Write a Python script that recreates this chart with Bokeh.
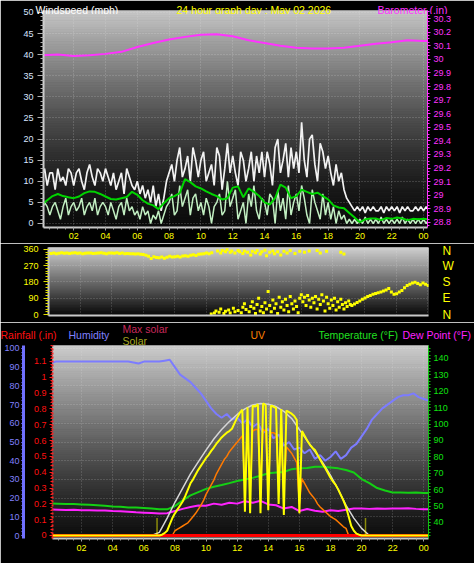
import numpy as np
from bokeh.plotting import figure
from bokeh.models import Range1d, LinearAxis, FixedTicker, Label, Grid, NumeralTickFormatter
from bokeh.layouts import column
from bokeh.embed import file_html
from bokeh.resources import INLINE

FONT = "Liberation Sans"
TICK_FS = "9px"
HEAD_FS = "10.5px"

# ---------------- data ----------------
hour_ticks = [2, 4, 6, 8, 10, 12, 14, 16, 18, 20, 22, 24]
hour_labels = ["02", "04", "06", "08", "10", "12", "14", "16", "18", "20", "22", "00"]

# barometer (inHg), hourly
baro_hours = list(range(26))
baro_in = [30.03, 30.035, 30.025, 30.03, 30.04, 30.055, 30.09, 30.12, 30.145, 30.165, 30.18, 30.185,
           30.17, 30.14, 30.12, 30.10, 30.085, 30.08, 30.08, 30.085, 30.10, 30.115, 30.125, 30.14,
           30.135, 30.135]

# wind (mph), 10-minute samples from 00:00
wind_step_h = 1 / 6
gust_mph = [11, 13, 9, 12, 12, 8, 13, 10, 11, 9, 13, 12,
            9, 12, 13, 10, 8, 12, 14, 11, 9, 13, 12, 10,
            13, 11, 9, 12, 8, 10, 12, 7, 13, 11, 9, 8,
            10, 7, 9, 6, 8, 5, 9, 4, 7, 3, 6, 10,
            12, 14, 10, 15, 18, 11, 13, 16, 10, 18, 15, 11,
            15, 17, 10, 12, 14, 9, 18, 16, 8, 13, 19, 12,
            16, 12, 9, 17, 15, 10, 13, 17, 10, 16, 12, 17,
            11, 17, 14, 9, 18, 20, 12, 15, 19, 11, 18, 13,
            17, 12, 24, 15, 11, 20, 21, 14, 10, 19, 17, 13,
            16, 12, 9, 14, 10, 12, 8, 6, 5, 4, 3, 4,
            3, 4, 2.5, 4, 3, 4, 3, 3, 4, 2.5, 4, 3,
            4, 3, 4, 2.5, 4, 3, 4, 3, 3, 4, 3, 4, 3, 4, 3]
speed_mph = [3, 5, 4, 2, 4, 5, 3, 1, 4, 6, 2, 4,
             5, 3, 4, 6, 2, 4, 5, 3, 6, 2, 4, 5,
             4, 2, 5, 3, 1, 4, 5, 2, 6, 3, 4, 2,
             3, 1, 4, 2, 3, 0, 2, 1, 3, 0, 2, 4,
             5, 7, 2, 3, 9, 4, 6, 8, 2, 6, 7, 3,
             5, 2, 6, 4, 0, 4, 5, 7, 2, 3, 10, 4,
             6, 8, 1, 3, 5, 0, 7, 4, 9, 3, 1, 6,
             5, 2, 7, 6, 0, 8, 3, 6, 1, 9, 2, 5,
             7, 3, 9, 6, 2, 0, 8, 5, 3, 1, 7, 2,
             5, 1, 4, 0, 3, 1, 2, 0, 1, 0, 1, 0,
             1, 0, 1.5, 0, 1, 0, 1, 0, 1.5, 0, 1, 0,
             1, 0, 1, 0, 1.5, 0, 1, 0, 1, 0, 1, 0, 1, 0, 1]
# average wind (mph), 20-minute samples
avg_step_h = 1 / 3
avg_mph = [4.5, 5.5, 6.5, 7, 6.5, 6.2, 6, 6.4, 7.2, 7.6, 7.5, 7,
           6.4, 5.8, 5.7, 6, 6.3, 7.5, 6.8, 5.5, 4.7, 4.3, 3.4, 4.8,
           6, 6.5, 7.2, 10.5, 9.8, 8.8, 8.3, 7.6, 7, 6.5, 5.7, 6,
           8.5, 8.8, 6.2, 8.3, 7.5, 6.5, 5, 4.5, 6, 9.2, 8.5, 6,
           6.5, 8, 7.5, 7, 7.3, 6.5, 5.7, 4.3, 3.8, 3.6, 2.5, 1.4,
           0.3, 1, 1.2, 1.2, 0.8, 1.3, 1.1, 1.4, 1.2, 0.8, 1.1, 1.0,
           1.1, 1.0]

# wind direction (degrees)
dir_step_h = 1 / 6
dir_band_deg = [340, 338, 341, 337, 339, 342,
                339, 341, 338, 340, 342, 339,
                340, 337, 339, 341, 340, 338,
                339, 340, 342, 339, 337, 340,
                341, 339, 342, 338, 340, 337,
                338, 336, 337, 335, 336, 333,
                332, 328, 322, 310, 320, 316,
                314, 319, 312, 317, 322, 318,
                320, 323, 319, 324, 326, 323,
                328, 331, 327, 333, 335, 337,
                340, 336, 342]
dir_scatter_h = [10.7, 10.9, 11.0, 11.2, 11.3, 11.5, 11.6, 11.8, 12.0, 12.1, 12.3, 12.4, 12.6, 12.8,
                 12.9, 13.1, 13.2, 13.4, 13.5, 13.7, 13.8, 14.0, 14.2, 14.3, 14.5, 14.7, 14.9, 15.1,
                 15.3, 15.6, 15.9, 16.2, 16.5, 17.0, 17.2, 17.6, 18.5, 18.7,
                 10.3, 10.5, 10.6, 10.8, 10.9, 11.1, 11.2, 11.4, 11.5, 11.7, 11.8, 12.0,
                 12.2, 12.3, 12.4, 12.5, 12.7, 12.8, 12.9, 13.0, 13.1, 13.2, 13.3, 13.4, 13.5, 13.6,
                 13.7, 13.8, 13.9,
                 14.0, 14.1, 14.2, 14.3, 14.4, 14.5, 14.6, 14.7, 14.8, 14.9, 15.0, 15.1, 15.2, 15.3,
                 15.4, 15.5, 15.6, 15.7, 15.8, 15.9,
                 16.0, 16.1, 16.2, 16.3, 16.4, 16.5, 16.6, 16.7, 16.8, 16.9, 17.0, 17.1, 17.2, 17.3,
                 17.4, 17.5, 17.6, 17.7, 17.8, 17.9,
                 18.0, 18.1, 18.2, 18.3, 18.4, 18.5, 18.6, 18.7, 18.8, 18.9, 19.0, 19.1]
dir_scatter_deg = [352, 340, 355, 347, 358, 345, 352, 340, 355, 347, 338, 352, 345, 330,
                   350, 342, 355, 335, 348, 356, 325, 345, 352, 336, 348, 330, 350, 340,
                   355, 338, 350, 345, 352, 355, 340, 350, 345, 335,
                   3, 8, 20, 12, 30, 5, 18, 25, 8, 35, 15, 22,
                   10, 40, 60, 28, 15, 45, 70, 35, 5, 55, 90, 20, 45, 10,
                   65, 30, 128,
                   50, 15, 80, 35, 60, 5, 95, 40, 70, 25, 85, 50, 15, 100,
                   60, 30, 75, 45, 10, 90,
                   110, 70, 95, 50, 105, 80, 40, 90, 65, 100, 30, 85, 55, 110,
                   75, 20, 95, 60, 35, 80,
                   50, 90, 25, 70, 40, 85, 55, 30, 65, 45, 75, 55]
dir_tail_start_h = 19.2
dir_tail_deg = [50, 58, 66, 75, 85, 92,
                100, 105, 112, 116, 120, 125,
                130, 136, 144, 125, 112, 115,
                125, 133, 148, 160, 168, 175,
                178, 172, 165, 175, 168, 160, 156]
dir_labels = {0: "N", 90: "E", 180: "S", 270: "W", 360: "N"}

# humidity (%), 20-minute samples
hum_step_h = 1 / 3
humidity = [92, 93, 93, 93, 93, 93, 93, 93, 93, 93, 93, 93,
            93, 93, 93, 93, 92.5, 92, 93, 93, 93, 93, 93.5, 94,
            90, 86, 84, 82, 79, 76, 72, 68, 65, 63, 65, 62,
            63, 60, 62, 58, 60, 55, 57, 52, 54, 48, 50, 46,
            47, 44, 46, 41, 43, 40, 42, 45, 41, 43, 47, 49,
            53, 57, 62, 65, 68, 70, 72, 74, 75, 75, 76, 74,
            73, 72]

# temperature / dew point (F), 30-minute samples
temp_step_h = 0.5
temperature = [51.6, 51.5, 51.3, 51.2, 51, 50.8, 50.5, 50.2, 49.8, 49.6, 49.2, 49.1,
               48.8, 48.5, 48.1, 48.0, 50, 53.5, 56.5, 58.5, 60.5, 61.8, 62.8, 64,
               65.3, 66.2, 67.2, 68.5, 70, 70.5, 70.8, 72.5, 73, 73.2, 74, 74,
               73.5, 73, 72, 70.5, 66.5, 64, 61, 59.5, 58.3, 58.3, 58.2, 58.3,
               58, 58]
dewpoint = [48, 47.8, 47.6, 47.7, 47.5, 47.4, 47.3, 47.3, 47, 46.8, 46.5, 46.2,
            46, 45.8, 45.5, 45.6, 47, 48.3, 49.5, 50.4, 50.2, 51.5, 50.8, 52,
            51.5, 53, 52, 53.2, 51, 50.5, 48.5, 49.5, 47, 48.2, 47.2, 46.5,
            47.5, 47, 47.8, 48.5, 48.6, 48.3, 48.6, 48.4, 48.6, 48.5, 48.7, 48.3,
            48, 48]

# rainfall (in), hourly
rain_hours = list(range(26))
rain_in = [0] * 26

# max solar (W/m2), 30-minute samples from 06:30
maxsolar_start_h = 6.5
maxsolar = [0, 20, 110, 210, 300, 390, 465, 540, 610, 670, 720, 765,
            800, 825, 834, 830, 815, 785, 740, 670, 600, 530, 460, 380,
            290, 190, 110, 45, 0, 0]

# solar (W/m2) and UV index, 10-minute samples from 06:30
sun_start_h = 6.5
solar = [0, 0, 0, 0,
         5, 15, 30, 70, 110, 140,
         165, 190, 215, 250, 290, 330,
         355, 385, 415, 440, 465, 490,
         510, 535, 556, 580, 600, 620,
         635, 650, 660, 675, 710, 745,
         775, 795, 150, 810, 140, 820,
         815, 830, 140, 835, 825, 160,
         820, 815, 805, 200, 800, 130,
         790, 780, 770, 755, 730, 140,
         660, 630, 600, 575, 555, 540,
         510, 480, 450, 425, 395, 365,
         340, 320, 290, 255, 220, 180,
         120, 60, 30, 12, 5, 0,
         0, 0, 0]
uv_index = [0, 0, 0, 0,
            0, 0, 0, 0, 0, 0.3,
            0.4, 0.5, 0.6, 0.7, 0.8, 1.0,
            1.2, 1.4, 1.65, 1.9, 2.2, 2.6,
            2.9, 3.2, 3.5, 3.9, 4.2, 4.5,
            4.8, 5.0, 5.3, 5.5, 5.7, 5.9,
            6.1, 6.3, 3.0, 6.5, 2.8, 6.6,
            6.7, 6.7, 3.2, 6.7, 6.6, 3.0,
            6.5, 6.5, 6.4, 3.5, 6.2, 2.8,
            5.6, 5.4, 5.2, 4.9, 4.6, 2.0,
            3.6, 3.3, 3.0, 2.7, 2.5, 2.3,
            2.0, 1.8, 1.65, 1.5, 1.35, 1.2,
            1.1, 1.0, 0.85, 0.7, 0.55, 0.45,
            0, 0, 0, 0, 0, 0,
            0, 0, 0]
sunrise_h = 6.85
sunset_h = 20.25
day_end_h = 24.3

# ---------------- helpers ----------------
def gradient(p, xr, yr, top, bottom, g, n=90):
    edges = np.linspace(yr.end, yr.start, n + 1)
    t = (np.arange(n) + 0.5) / n
    cols = []
    for ti in t:
        f = (1 - ti) ** g
        c = int(round(bottom + (top - bottom) * f))
        cols.append("#%02x%02x%02x" % (c, c, c))
    p.quad(left=xr.start, right=xr.end, top=edges[:-1], bottom=edges[1:],
           fill_color=cols, line_color=cols, line_width=1, level="image")


def style_axis(ax, label_color, line_color, tick_color, fs=TICK_FS, tick_out=3, minor_out=2,
               standoff=3, line_width=1, line_dash=None):
    ax.major_label_text_color = label_color
    ax.major_label_text_font = FONT
    ax.major_label_text_font_size = fs
    ax.axis_line_color = line_color
    ax.axis_line_width = line_width
    if line_dash:
        ax.axis_line_dash = line_dash
    ax.major_tick_line_color = tick_color
    ax.minor_tick_line_color = tick_color
    ax.major_tick_in = 0
    ax.minor_tick_in = 0
    ax.major_tick_out = tick_out
    ax.minor_tick_out = minor_out
    ax.major_label_standoff = standoff


def header_strip(h, top):
    # transparent strip laid over the top border of a panel; coordinates are its own pixels
    s = figure(width=474, height=h, x_range=Range1d(0, 474), y_range=Range1d(h, 0),
               output_backend="svg", toolbar_location=None,
               background_fill_alpha=0, border_fill_alpha=0, outline_line_color=None,
               min_border=0, min_border_left=0, min_border_right=0, min_border_top=0,
               min_border_bottom=0, x_axis_location=None, y_axis_location=None, frame_align=False,
               styles={"position": "absolute", "top": "%dpx" % top, "left": "0px", "z-index": "2"})
    s.xgrid.visible = False
    s.ygrid.visible = False
    return s


def header(s, px, py, text, color, fs=HEAD_FS):
    s.add_layout(Label(x=px, y=py, text=text, text_color=color, text_font=FONT,
                       text_font_size=fs, text_baseline="alphabetic", text_align="left"))


def base_fig(w, h, xr, yr, ml, mr, mt, mb, **kw):
    p = figure(width=w, height=h, x_range=xr, y_range=yr, output_backend="svg",
               toolbar_location=None, background_fill_color="black", border_fill_color="black",
               outline_line_color=None, min_border_left=ml, min_border_right=mr,
               min_border_top=mt, min_border_bottom=mb, frame_align=False, **kw)
    return p


half_hours = [i * 0.5 for i in range(0, 50)]
x_overrides = {t: l for t, l in zip(hour_ticks, hour_labels)}

# ---------------- top header ----------------
h1 = header_strip(14, 0)
header(h1, 35, 9, "Windspeed (mph)", "#ffffff")
header(h1, 176, 9, "24 hour graph day : May 02 2026", "#ffff00")
header(h1, 377, 9, "Barometer (.in)", "#ff33ff")

# ---------------- top panel: wind + barometer ----------------
x1 = Range1d(0.1, 24.25)
y1 = Range1d(-0.95, 50.47)
p1 = base_fig(474, 243, x1, y1, 43, 47, 10, 16)
p1.extra_y_ranges = {"baro": Range1d(28.763, 30.359)}
gradient(p1, x1, y1, 200, 12, 1.5)

p1.xaxis.ticker = FixedTicker(ticks=hour_ticks, minor_ticks=half_hours)
p1.xaxis.major_label_overrides = x_overrides
style_axis(p1.xaxis[0], "#ffff00", "#c8c8c8", "#a0a0a0", tick_out=3, minor_out=2, standoff=2, line_width=2)
p1.yaxis.ticker = FixedTicker(ticks=list(range(0, 51, 5)), minor_ticks=list(range(0, 51)))
style_axis(p1.yaxis[0], "#d8e4ff", "#d0d0d0", "#b0b0b0", tick_out=6, minor_out=3, standoff=4, line_width=2)
baro_ticks = [round(28.8 + 0.1 * i, 1) for i in range(16)]
baro_axis = LinearAxis(y_range_name="baro",
                       ticker=FixedTicker(ticks=baro_ticks,
                                          minor_ticks=[round(28.75 + 0.025 * i, 3) for i in range(66)]),
                       formatter=NumeralTickFormatter(format="0.[0]"))
style_axis(baro_axis, "#ff33ff", "#ff33ff", "#ff33ff", tick_out=3, minor_out=2, standoff=3)
p1.add_layout(baro_axis, "right")

p1.xgrid.ticker = FixedTicker(ticks=hour_ticks)
p1.ygrid.ticker = FixedTicker(ticks=list(range(0, 51, 5)))
for g_ in (p1.xgrid[0], p1.ygrid[0]):
    g_.grid_line_color = "#e8e8e8"
    g_.grid_line_alpha = 0.35
    g_.grid_line_dash = "1 2"

t_w = np.arange(len(gust_mph)) * wind_step_h
p1.line(t_w, gust_mph, color="#f2f2f2", line_width=1.7)
p1.line(np.arange(len(speed_mph)) * wind_step_h, speed_mph, color="#c2efc2", line_width=1.5)
p1.line(np.arange(len(avg_mph)) * avg_step_h, avg_mph, color="#00d400", line_width=2)
p1.line(baro_hours, baro_in, color="#ff33ff", line_width=2, y_range_name="baro")

# ---------------- middle panel: wind direction ----------------
x2 = Range1d(0, 24.05)
y2 = Range1d(-5.5, 371)
p2 = base_fig(474, 79, x2, y2, 48, 46, 4, 7)
gradient(p2, x2, y2, 210, 10, 1.0)
p2.xaxis.ticker = FixedTicker(ticks=[])
style_axis(p2.xaxis[0], "#000000", "#c8c8c8", "#c8c8c8", tick_out=0, minor_out=0, standoff=0, line_width=2)
p2.xaxis.major_label_text_font_size = "0px"
p2.yaxis.ticker = FixedTicker(ticks=[0, 90, 180, 270, 360], minor_ticks=list(range(0, 361, 15)))
style_axis(p2.yaxis[0], "#ffff00", "#c8c8c8", "#e0e000", tick_out=5, minor_out=3, standoff=5, line_width=2)
compass = LinearAxis(ticker=FixedTicker(ticks=[0, 90, 180, 270, 360]))
compass.major_label_overrides = dir_labels
style_axis(compass, "#ffff00", None, None, fs="12px", tick_out=0, minor_out=0, standoff=14)
p2.add_layout(compass, "right")
p2.xgrid.ticker = FixedTicker(ticks=hour_ticks)
p2.ygrid.ticker = FixedTicker(ticks=[90, 180, 270])
for g_ in (p2.xgrid[0], p2.ygrid[0]):
    g_.grid_line_color = "#e8e8e8"
    g_.grid_line_alpha = 0.3
    g_.grid_line_dash = "1 2"

band_t = np.arange(len(dir_band_deg)) * dir_step_h
tail_t = dir_tail_start_h + np.arange(len(dir_tail_deg)) * dir_step_h
p2.scatter(band_t, dir_band_deg, marker="square", size=3, color="#ffff00", line_color=None)
p2.scatter(dir_scatter_h, dir_scatter_deg, marker="square", size=3, color="#ffff00", line_color=None)
p2.scatter(tail_t, dir_tail_deg, marker="square", size=3, color="#ffff00", line_color=None)

# ---------------- bottom header ----------------
h3 = header_strip(27, 318)
header(h3, 0, 16, "Rainfall (.in)", "#ff1010")
header(h3, 68, 16, "Humidity", "#8080ff")
header(h3, 122, 10, "Max solar", "#c8285a")
header(h3, 122, 22, "Solar", "#a8a820")
header(h3, 250, 16, "UV", "#ff8000")
header(h3, 318, 16, "Temperature (°F)", "#20e020")
header(h3, 402, 16, "Dew Point (°F)", "#ff22ff")

# ---------------- bottom panel ----------------
x3 = Range1d(0.13, 24.3)
y3 = Range1d(-0.019, 1.201)
p3 = base_fig(474, 241, x3, y3, 52, 46, 23, 25, y_axis_location=None)
p3.extra_y_ranges = {"hum": Range1d(-1.6, 101.6), "temp": Range1d(30.24, 147.9),
                     "solar": Range1d(-19, 1201), "uv": Range1d(-0.19, 12.01)}
gradient(p3, x3, y3, 205, 14, 1.2)
for g_ in p3.ygrid:
    g_.visible = False

p3.xaxis.ticker = FixedTicker(ticks=hour_ticks, minor_ticks=half_hours)
p3.xaxis.major_label_overrides = x_overrides
style_axis(p3.xaxis[0], "#ffff00", "#c8c8c8", "#a0a0a0", tick_out=3, minor_out=2, standoff=3, line_width=2)

rain_axis = LinearAxis(ticker=FixedTicker(ticks=[round(0.1 * i, 1) for i in range(12)],
                                          minor_ticks=[round(0.02 * i, 2) for i in range(61)]),
                       formatter=NumeralTickFormatter(format="0.[0]"))
style_axis(rain_axis, "#ff1010", "#ff2020", "#ff2020", tick_out=3, minor_out=2, standoff=3,
           line_width=2, line_dash="2 2")
rain_axis.axis_label = " "
rain_axis.axis_label_text_font_size = "2px"
rain_axis.axis_label_standoff = 2
p3.add_layout(rain_axis, "left")
hum_axis = LinearAxis(y_range_name="hum", ticker=FixedTicker(ticks=list(range(0, 101, 10)),
                                                            minor_ticks=list(range(0, 101, 2))))
style_axis(hum_axis, "#8080ff", "#7070ff", "#7070ff", tick_out=2, minor_out=2, standoff=2, line_width=3)
p3.add_layout(hum_axis, "left")
temp_axis = LinearAxis(y_range_name="temp", ticker=FixedTicker(ticks=list(range(40, 141, 10)),
                                                              minor_ticks=list(range(32, 148, 2))))
style_axis(temp_axis, "#10e010", "#10c010", "#10c010", tick_out=2, minor_out=2, standoff=3, line_width=1)
p3.add_layout(temp_axis, "right")

p3.xgrid.ticker = FixedTicker(ticks=hour_ticks)
p3.xgrid.grid_line_color = "#e8e8e8"
p3.xgrid.grid_line_alpha = 0.3
p3.xgrid.grid_line_dash = "1 2"
hgrid = Grid(dimension=1, ticker=FixedTicker(ticks=list(range(10, 101, 10))), y_range_name="hum",
             grid_line_color="#e8e8e8", grid_line_alpha=0.3, grid_line_dash="1 2")
p3.add_layout(hgrid)

p3.line(np.arange(len(humidity)) * hum_step_h, humidity, color="#7c7cff", line_width=2, y_range_name="hum")
t_t = np.arange(len(temperature)) * temp_step_h
p3.line(t_t, temperature, color="#14d014", line_width=2, y_range_name="temp")
p3.line(t_t, dewpoint, color="#ff22ff", line_width=2, y_range_name="temp")
p3.line(maxsolar_start_h + np.arange(len(maxsolar)) * 0.5, maxsolar, color="#d6d6d6", line_width=1.5,
        y_range_name="solar")
sun_t = sun_start_h + np.arange(len(solar)) / 6
p3.line(sun_t, uv_index, color="#ff7a00", line_width=1.5, y_range_name="uv")
p3.line(rain_hours, rain_in, color="#ff0000", line_width=3)
solar_t_full = np.concatenate([[0.0], sun_t, [day_end_h]])
solar_full = [0] + solar + [0]
p3.line(solar_t_full, solar_full, color="#ffff00", line_width=2, y_range_name="solar")
p3.segment(x0=[sunrise_h, sunset_h], y0=[0, 0], x1=[sunrise_h, sunset_h], y1=[110, 110],
           line_color="#ffff00", line_width=1.5, line_dash="1 1", y_range_name="solar")

layout = column(p1, p2, p3, h1, h3, spacing=0)
open("out.html", "w").write(file_html(layout, INLINE))
